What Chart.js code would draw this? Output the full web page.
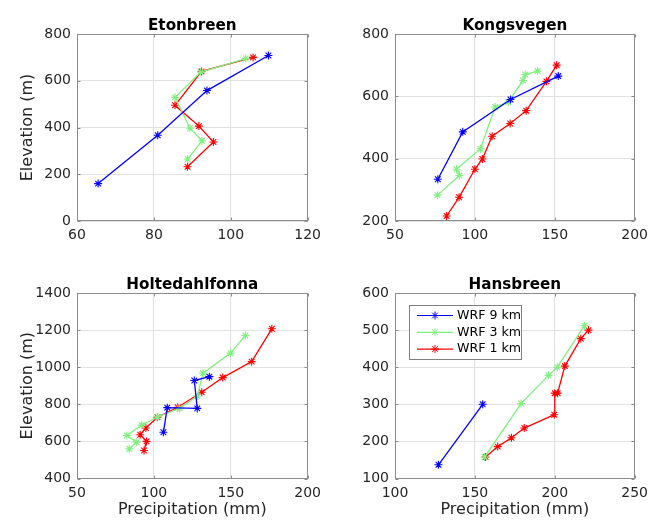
<!DOCTYPE html>
<html><head><meta charset="utf-8">
<script src="https://cdn.jsdelivr.net/npm/chart.js@4.4.0/dist/chart.umd.min.js"></script>
<style>
html,body{margin:0;padding:0;background:#fff;}
#wrap{position:relative;width:654px;height:521px;overflow:hidden;background:#fff;}
canvas{position:absolute;}
</style></head><body>
<div id="wrap">
<canvas id="c1" width="327" height="260" style="left:0;top:0"></canvas>
<canvas id="c2" width="327" height="260" style="left:327px;top:0"></canvas>
<canvas id="c3" width="327" height="261" style="left:0;top:260px"></canvas>
<canvas id="c4" width="327" height="261" style="left:327px;top:260px"></canvas>
</div>
<script>
const seriesNames = ['WRF 9 km', 'WRF 3 km', 'WRF 1 km'];
const seriesColors = ['#0000ff', '#80f080', '#ff0000'];
const panelTitles = ['Etonbreen', 'Kongsvegen', 'Holtedahlfonna', 'Hansbreen'];
const xAxisLabel = 'Precipitation (mm)';
const yAxisLabel = 'Elevation (m)';

// Etonbreen
const etonPrecip9 = [65.5, 81, 93.8, 109.8];
const etonElev9   = [160, 367, 558, 708];
const etonPrecip3 = [88.8, 92.5, 89.4, 85.5, 92.2, 103.9];
const etonElev3   = [265, 343, 397, 529, 637, 695];
const etonPrecip1 = [88.75, 95.5, 91.7, 85.5, 92.4, 105.8];
const etonElev1   = [232, 338, 406, 495, 640, 700];
const etonXTicks = [60, 80, 100, 120];
const etonYTicks = [0, 200, 400, 600, 800];

// Kongsvegen
const kongPrecip9 = [76.8, 92.4, 122.3, 152.2];
const kongElev9   = [334, 486, 590, 665];
const kongPrecip3 = [76.6, 90.3, 88.5, 103.5, 112.7, 120.9, 130.1, 131.5, 139.3];
const kongElev3   = [283, 346, 366, 432, 566, 582, 651, 670, 681];
const kongPrecip1 = [82.3, 90.1, 100, 104.7, 110.8, 122.1, 132.1, 144.8, 151.2];
const kongElev1   = [216, 276, 366, 399, 472, 513, 554, 648, 700];
const kongXTicks = [50, 100, 150, 200];
const kongYTicks = [200, 400, 600, 800];

// Holtedahlfonna
const holtPrecip9 = [106.2, 108.7, 128.2, 126.3, 136.1];
const holtElev9   = [649, 782, 778, 928, 949];
const holtPrecip3 = [84.0, 88.8, 82.4, 92.1, 102.5, 116.8, 128.4, 131.9, 149.9, 159.5];
const holtElev3   = [560, 596, 632, 688, 733, 778, 845, 968, 1076, 1171];
const holtPrecip1 = [93.6, 95.2, 91.1, 94.8, 102.3, 115.5, 131.1, 144.8, 163.6, 176.7];
const holtElev1   = [551, 600, 636, 672, 730, 784, 865, 944, 1030, 1207];
const holtXTicks = [50, 100, 150, 200];
const holtYTicks = [400, 600, 800, 1000, 1200, 1400];

// Hansbreen
const hansPrecip9 = [127.2, 154.9];
const hansElev9   = [137, 300];
const hansPrecip3 = [156.1, 178.9, 196.1, 201.6, 218.6];
const hansElev3   = [158, 302, 378, 400, 512];
const hansPrecip1 = [156.7, 164.3, 172.9, 180.9, 199.7, 200, 201.8, 206.3, 216.3, 221.1];
const hansElev1   = [158, 186, 210, 236, 272, 330, 330, 403, 477, 500];
const hansXTicks = [100, 150, 200, 250];
const hansYTicks = [100, 200, 300, 400, 500, 600];

Chart.defaults.font.family = '"DejaVu Sans", sans-serif';
Chart.defaults.color = '#262626';

const AXIS_COLOR = '#8c8c8c';

const framePlugin = {
  id: 'frame',
  afterDraw(chart, args, o) {
    const {ctx, chartArea: a, scales} = chart;
    const L = Math.round(a.left) + 0.5, R = Math.round(a.right) - 0.5;
    const T = Math.round(a.top) + 0.5, B = Math.round(a.bottom) - 0.5;
    ctx.save();
    ctx.strokeStyle = AXIS_COLOR; ctx.lineWidth = 1;
    ctx.strokeRect(L, T, R - L, B - T);
    ctx.beginPath();
    scales.x.ticks.forEach(t => {
      const p = Math.round(scales.x.getPixelForValue(t.value)) + 0.5;
      ctx.moveTo(p, B); ctx.lineTo(p, B - 3);
      ctx.moveTo(p, T); ctx.lineTo(p, T + 3);
    });
    scales.y.ticks.forEach(t => {
      const p = Math.round(scales.y.getPixelForValue(t.value)) + 0.5;
      ctx.moveTo(L, p); ctx.lineTo(L + 3, p);
      ctx.moveTo(R, p); ctx.lineTo(R - 3, p);
    });
    ctx.stroke();
    ctx.fillStyle = '#000';
    ctx.font = 'bold 15.2px "DejaVu Sans"';
    ctx.textAlign = 'center'; ctx.textBaseline = 'alphabetic';
    ctx.fillText(o.title, (a.left + a.right) / 2, a.top - 4);
    if (o.legend) {
      const bx = Math.round(a.left) + 14, by = Math.round(a.top) + 12, bw = 112, bh = 54;
      ctx.fillStyle = '#fff'; ctx.fillRect(bx, by, bw, bh);
      ctx.strokeStyle = '#808080'; ctx.lineWidth = 1;
      ctx.strokeRect(bx + 0.5, by + 0.5, bw, bh);
      chart.data.datasets.forEach((d, i) => {
        const y = by + 10.5 + i * 16.8;
        ctx.strokeStyle = d.borderColor; ctx.fillStyle = d.borderColor; ctx.lineWidth = 1.2;
        ctx.beginPath(); ctx.moveTo(bx + 8, y); ctx.lineTo(bx + 44, y); ctx.stroke();
        ctx.lineWidth = 1;
        Chart.helpers.drawPoint(ctx, {pointStyle: 'star', radius: 4, borderWidth: 1, rotation: 0}, bx + 26, y);
        ctx.fillStyle = '#000';
        ctx.font = '12.6px "DejaVu Sans"';
        ctx.textAlign = 'left'; ctx.textBaseline = 'middle';
        ctx.fillText(d.label, bx + 48, y);
      });
    }
    ctx.restore();
  }
};

function pts(xs, ys) { return xs.map((x, i) => ({x: x, y: ys[i]})); }

function makeChart(id, title, series, xTicks, yTicks, o) {
  const datasets = series.map((s, i) => ({
    label: seriesNames[i],
    data: pts(s[0], s[1]),
    showLine: true,
    borderColor: seriesColors[i],
    backgroundColor: seriesColors[i],
    borderWidth: 1.3,
    pointStyle: 'star',
    pointRadius: 4,
    pointBorderWidth: 1.1,
    pointHoverRadius: 4,
    tension: 0,
    fill: false
  }));
  return new Chart(document.getElementById(id), {
    type: 'scatter',
    data: {datasets},
    plugins: [framePlugin],
    options: {
      responsive: false, animation: false, devicePixelRatio: 1,
      layout: {padding: {left: 0, top: o.top, right: o.right, bottom: 0}},
      plugins: {legend: {display: false}, tooltip: {enabled: false},
        frame: {title: title, legend: !!o.legend}},
      scales: {
        x: {
          type: 'linear', min: xTicks[0], max: xTicks[xTicks.length - 1],
          afterBuildTicks: s => { s.ticks = xTicks.map(v => ({value: v})); },
          afterFit: s => { s.height = o.xh; },
          grid: {color: '#e2e2e2', drawTicks: false, lineWidth: 1},
          border: {display: false},
          ticks: {padding: 6, color: '#262626', font: {size: 14}, maxRotation: 0, autoSkip: false,
            callback: v => String(v)},
          title: {display: !!o.xTitle, text: xAxisLabel, color: '#262626', font: {size: 16}, padding: {top: 0, bottom: 2}}
        },
        y: {
          type: 'linear', min: yTicks[0], max: yTicks[yTicks.length - 1],
          afterBuildTicks: s => { s.ticks = yTicks.map(v => ({value: v})); },
          afterFit: s => { s.width = o.yw; },
          grid: {color: '#e2e2e2', drawTicks: false, lineWidth: 1},
          border: {display: false},
          ticks: {padding: 6, color: '#262626', font: {size: 14}, autoSkip: false,
            callback: v => String(v)},
          title: {display: !!o.yTitle, text: yAxisLabel, color: '#262626', font: {size: 16}, padding: {top: 18.7, bottom: 0}}
        }
      }
    }
  });
}

makeChart('c1', panelTitles[0],
  [[etonPrecip9, etonElev9], [etonPrecip3, etonElev3], [etonPrecip1, etonElev1]],
  etonXTicks, etonYTicks, {yw: 77, right: 9, top: 34, xh: 39, yTitle: true});
makeChart('c2', panelTitles[1],
  [[kongPrecip9, kongElev9], [kongPrecip3, kongElev3], [kongPrecip1, kongElev1]],
  kongXTicks, kongYTicks, {yw: 68, right: 15, top: 34, xh: 39});
makeChart('c3', panelTitles[2],
  [[holtPrecip9, holtElev9], [holtPrecip3, holtElev3], [holtPrecip1, holtElev1]],
  holtXTicks, holtYTicks, {yw: 77, right: 9, top: 33, xh: 42.5, yTitle: true, xTitle: true});
makeChart('c4', panelTitles[3],
  [[hansPrecip9, hansElev9], [hansPrecip3, hansElev3], [hansPrecip1, hansElev1]],
  hansXTicks, hansYTicks, {yw: 68, right: 15, top: 33, xh: 42.5, xTitle: true, legend: true});
</script>
</body></html>
